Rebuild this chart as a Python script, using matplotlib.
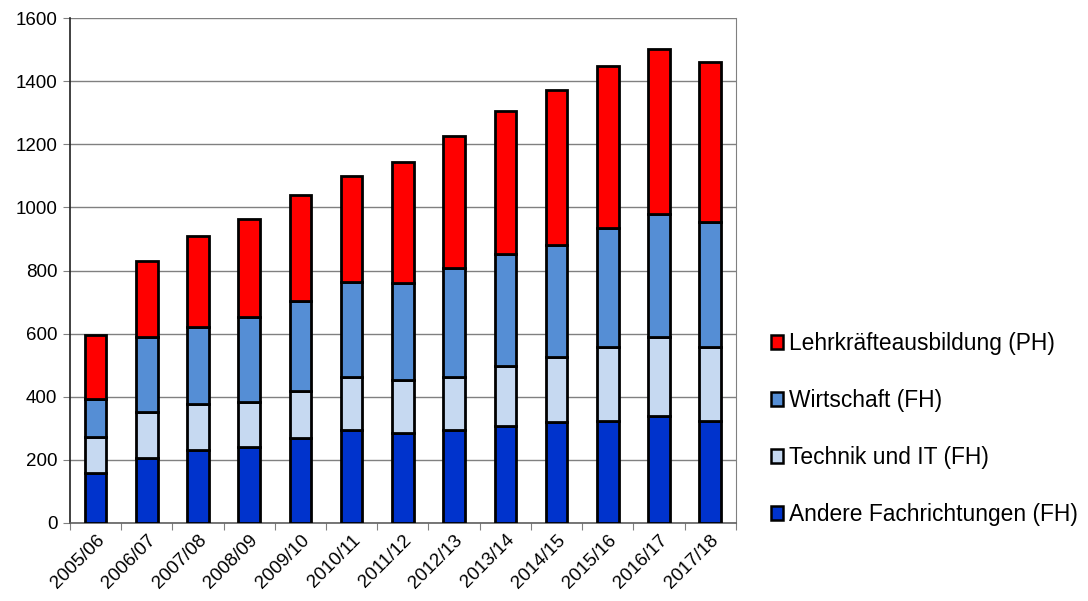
import numpy as np
import matplotlib.pyplot as plt

plt.rcParams['font.family'] = ['Liberation Sans', 'DejaVu Sans']

years = ['2005/06', '2006/07', '2007/08', '2008/09', '2009/10', '2010/11', '2011/12',
         '2012/13', '2013/14', '2014/15', '2015/16', '2016/17', '2017/18']

andere = [157, 207, 231, 240, 268, 295, 284, 295, 308, 321, 322, 339, 324]
technik = [114, 145, 147, 142, 151, 169, 169, 167, 190, 206, 236, 249, 235]
wirtschaft = [123, 238, 242, 270, 285, 299, 306, 345, 355, 354, 377, 391, 394]
lehrkraefte = [202, 241, 289, 311, 334, 337, 386, 419, 452, 492, 514, 524, 508]

series = [
    ('Andere Fachrichtungen (FH)', andere, '#0033cc'),
    ('Technik und IT (FH)', technik, '#c6d9f1'),
    ('Wirtschaft (FH)', wirtschaft, '#558ed5'),
    ('Lehrkräfteausbildung (PH)', lehrkraefte, '#ff0000'),
]

fig = plt.figure(figsize=(10.88, 6.01), dpi=100)
ax = fig.add_axes([0.0643, 0.1298, 0.612, 0.8402])

x = np.arange(len(years))
bottom = np.zeros(len(years))
handles = []
for name, vals, color in series:
    b = ax.bar(x, vals, width=0.42, bottom=bottom, color=color,
               edgecolor='black', linewidth=2.0, label=name, zorder=3)
    handles.append(b)
    bottom += np.array(vals)

ax.set_xlim(-0.5, len(years) - 0.5)
ax.set_ylim(0, 1600)
ax.set_yticks(range(0, 1601, 200))
ax.yaxis.grid(True, color='#808080', linewidth=1.0, zorder=0)

# category boundaries as ticks, labels at centers
ax.set_xticks(np.arange(-0.5, len(years), 1.0))
ax.set_xticklabels([])
ax.set_xticks(x, minor=True)
ax.set_xticklabels(years, minor=True, rotation=45, ha='right', rotation_mode='anchor')
ax.tick_params(axis='x', which='minor', length=0, pad=6, labelsize=13.5)
ax.tick_params(axis='x', which='major', length=5, color='#808080', direction='out')
ax.tick_params(axis='y', length=5, color='#808080', labelsize=13.5, pad=4)

ax.spines['top'].set_visible(False)
ax.spines['right'].set_color('#808080')
ax.spines['left'].set_color('#202020')
ax.spines['bottom'].set_color('#606060')
ax.spines['left'].set_linewidth(1.2)
ax.spines['bottom'].set_linewidth(1.2)

leg = fig.legend(handles[::-1], [s[0] for s in series[::-1]],
                 loc='center left', bbox_to_anchor=(0.700, 0.286),
                 frameon=False, fontsize=16.4, handlelength=0.55, handleheight=0.55,
                 handletextpad=0.25, labelspacing=1.5, borderaxespad=0)
for p in leg.get_patches():
    p.set_linewidth(1.8)

fig.savefig('out.png', dpi=100)
